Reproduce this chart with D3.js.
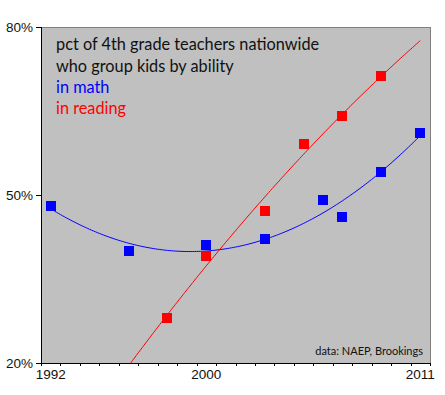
<!DOCTYPE html>
<html>
<head>
<meta charset="utf-8">
<script src="https://cdn.jsdelivr.net/npm/d3@7"></script>
<style>
  body { margin: 0; background: #fff; }
</style>
</head>
<body>
<script>
    // values (percent of teachers)
    var mathYears = [1992, 1996, 2000, 2003, 2006, 2007, 2009, 2011];
    var mathPct = [48.0, 40.0, 41.1, 42.1, 49.1, 46.1, 54.1, 61.1];
    var readYears = [1998, 2000, 2003, 2005, 2007, 2009];
    var readPct = [28.0, 39.1, 47.1, 59.1, 64.1, 71.2];
    var yTicks = [20, 50, 80];
    var xLabels = [1992, 2000, 2011];
    var titleLines = ["pct of 4th grade teachers nationwide", "who group kids by ability"];

    function drawChart() {
        var w = 445, h = 395;
        var pL = 41, pR = 430, pT = 27, pB = 363;
        var axisFont = "'Liberation Sans', Arial, sans-serif";
        var tf = "Lato, 'Open Sans', sans-serif";

        var svg = d3.select("body").append("svg")
            .attr("width", w)
            .attr("height", h);

        var x = d3.scaleLinear().domain([1991.5, 2011.5]).range([pL, pR]);
        var y = d3.scaleLinear().domain([20, 80]).range([pB, pT]);

        // least squares quadratic, centred on the mean year
        var quadFit = function (xs, ys) {
            var m = d3.mean(xs);
            var s = [0, 0, 0, 0, 0], t = [0, 0, 0];
            for (var i = 0; i < xs.length; i++) {
                var u = xs[i] - m, p = 1;
                for (var k = 0; k < 5; k++) { s[k] += p; if (k < 3) t[k] += p * ys[i]; p *= u; }
            }
            var A = [[s[0], s[1], s[2], t[0]], [s[1], s[2], s[3], t[1]], [s[2], s[3], s[4], t[2]]];
            for (var c = 0; c < 3; c++) {
                for (var r = c + 1; r < 3; r++) {
                    var f = A[r][c] / A[c][c];
                    for (var j = c; j < 4; j++) A[r][j] -= f * A[c][j];
                }
            }
            var b = [0, 0, 0];
            for (var r2 = 2; r2 >= 0; r2--) {
                var v = A[r2][3];
                for (var j2 = r2 + 1; j2 < 3; j2++) v -= A[r2][j2] * b[j2];
                b[r2] = v / A[r2][r2];
            }
            return function (yr) { var u = yr - m; return b[0] + b[1] * u + b[2] * u * u; };
        };

        svg.append("defs").append("clipPath").attr("id", "plot")
            .append("rect").attr("x", pL).attr("y", pT)
            .attr("width", pR - pL).attr("height", pB - pT);

        // plot background and frame
        svg.append("rect")
            .attr("x", pL + 0.5).attr("y", pT + 0.5)
            .attr("width", pR - pL).attr("height", pB - pT)
            .attr("fill", "#c0c0c0")
            .attr("stroke", "#808080");

        var g = svg.append("g").attr("clip-path", "url(#plot)");

        var drawTrend = function (xs, ys, color) {
            var fit = quadFit(xs, ys);
            var yrs = d3.range(1992, 2011.001, 0.1);
            var line = d3.line()
                .x(function (d) { return x(d); })
                .y(function (d) { return y(fit(d)); });
            g.append("path")
                .datum(yrs)
                .attr("d", line)
                .attr("fill", "none")
                .attr("stroke", color)
                .attr("stroke-width", 1);
        };

        drawTrend(mathYears, mathPct, "#0000ff");
        drawTrend(readYears, readPct, "#ff0000");

        var drawSquares = function (xs, ys, color) {
            g.selectAll(null)
                .data(xs)
                .enter().append("rect")
                .attr("x", function (d) { return Math.round(x(d) - 5); })
                .attr("y", function (d, i) { return Math.round(y(ys[i]) - 5); })
                .attr("width", 10)
                .attr("height", 10)
                .attr("fill", color)
                .attr("shape-rendering", "crispEdges");
        };

        drawSquares(readYears, readPct, "#ff0000");
        drawSquares(mathYears, mathPct, "#0000ff");

        // axes
        svg.append("line").attr("x1", pL + 0.5).attr("x2", pL + 0.5).attr("y1", pT).attr("y2", pB + 3)
            .attr("stroke", "#000");
        svg.append("line").attr("x1", pL - 5).attr("x2", pR + 1).attr("y1", pB + 0.5).attr("y2", pB + 0.5)
            .attr("stroke", "#000");

        svg.selectAll(".ytick")
            .data(yTicks)
            .enter().append("line")
            .attr("x1", pL - 5).attr("x2", pL)
            .attr("y1", function (d) { return Math.round(y(d)) + 0.5; })
            .attr("y2", function (d) { return Math.round(y(d)) + 0.5; })
            .attr("stroke", "#000");

        svg.selectAll(".ylab")
            .data(yTicks)
            .enter().append("text")
            .attr("x", pL - 8)
            .attr("y", function (d) { return y(d) + 5; })
            .attr("text-anchor", "end")
            .style("font-family", axisFont)
            .style("font-size", "13.5px")
            .attr("fill", "#111")
            .text(function (d) { return d + "%"; });

        svg.selectAll(".xtick")
            .data(d3.range(1992.5, 2011.6, 1))
            .enter().append("line")
            .attr("x1", function (d) { return Math.round(x(d)) + 0.5; })
            .attr("x2", function (d) { return Math.round(x(d)) + 0.5; })
            .attr("y1", pB).attr("y2", pB + 3)
            .attr("stroke", "#000");

        svg.selectAll(".xlab")
            .data(xLabels)
            .enter().append("text")
            .attr("x", function (d) { return x(d); })
            .attr("y", 379)
            .attr("text-anchor", "middle")
            .style("font-family", axisFont)
            .style("font-size", "13.5px")
            .attr("fill", "#111")
            .text(function (d) { return d; });

        // title and key
        svg.selectAll(".title")
            .data(titleLines)
            .enter().append("text")
            .attr("x", 56)
            .attr("y", function (d, i) { return 50 + i * 21.5; })
            .style("font-family", tf)
            .style("font-size", "16.3px")
            .attr("fill", "#111")
            .text(function (d) { return d; });

        svg.append("text").attr("x", 56).attr("y", 93)
            .style("font-family", tf).style("font-size", "16.3px")
            .attr("fill", "#0000ff").text("in math");
        svg.append("text").attr("x", 56).attr("y", 113.5)
            .style("font-family", tf).style("font-size", "16.3px")
            .attr("fill", "#ff0000").text("in reading");

        svg.append("text").attr("x", 423).attr("y", 355).attr("text-anchor", "end")
            .style("font-family", tf).style("font-size", "11px")
            .attr("fill", "#111")
            .text("data: NAEP, Brookings");
    }

    drawChart();
</script>
</body>
</html>
